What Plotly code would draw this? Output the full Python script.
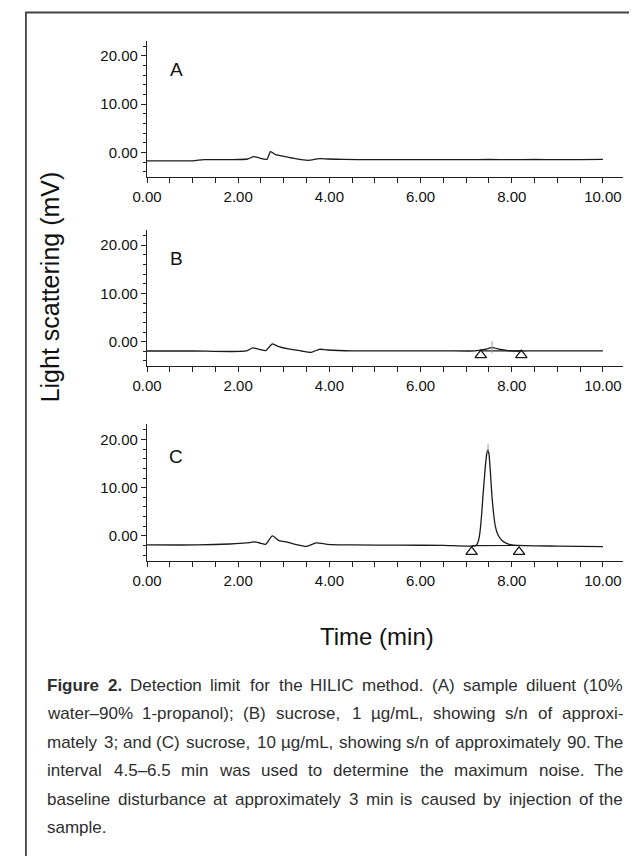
import math
import plotly.graph_objects as go

# ---------------- data ----------------
time_a = [0.0, 0.5, 1.0, 1.25, 1.82, 2.21, 2.34, 2.46, 2.63, 2.71, 2.82, 3.03, 3.25, 3.53, 3.78, 3.96,
          4.3, 5.0, 5.5, 6.0, 6.5, 7.0, 7.5, 8.0, 8.5, 9.0, 9.5, 10.0]
signal_a = [-1.75, -1.75, -1.72, -1.48, -1.48, -1.35, -0.86, -1.14, -1.42, 0.17, -0.45, -0.86, -1.28, -1.62,
            -1.28, -1.35, -1.45, -1.5, -1.48, -1.5, -1.48, -1.5, -1.46, -1.5, -1.46, -1.48, -1.47, -1.45]

time_b = [0.0, 1.0, 2.18, 2.32, 2.46, 2.60, 2.75, 2.89, 3.10, 3.39, 3.60, 3.78, 3.96, 4.5, 5.5, 6.5,
          7.2, 7.4, 7.57, 7.75, 7.95, 8.5, 9.0, 9.5, 10.0]
signal_b = [-1.93, -1.93, -1.93, -1.3, -1.58, -1.86, -0.48, -1.03, -1.51, -1.93, -2.2, -1.58, -1.72, -1.9,
            -1.92, -1.9, -1.9, -1.6, -1.25, -1.6, -1.9, -1.92, -1.9, -1.92, -1.9]

time_c = [0.0, 1.11, 1.82, 2.18, 2.35, 2.50, 2.60, 2.75, 2.89, 3.03, 3.25, 3.50, 3.71, 3.96, 4.5, 5.5,
          6.5, 7.21, 7.26, 7.30, 7.34, 7.37, 7.40, 7.43, 7.46, 7.48, 7.50, 7.53, 7.56, 7.60, 7.64, 7.70,
          7.78, 7.90, 8.04, 9.0, 10.0]
signal_c = [-1.86, -1.86, -1.66, -1.45, -1.24, -1.52, -1.72, 0.0, -0.97, -1.17, -1.72, -2.14, -1.45, -1.72,
            -1.85, -1.9, -1.95, -2.0, -1.3, 0.6, 4.5, 8.5, 12.0, 15.3, 17.4, 17.8, 17.0, 13.5, 9.0, 4.8, 2.0, 0.2,
            -0.9, -1.6, -1.9, -2.1, -2.2]

# integration markers (peak start / end) and apex ticks
marks_b_time = [7.32, 8.21]
marks_b_val = [-2.8, -2.8]
base_b_time = [7.32, 8.21]
base_b_val = [-1.9, -1.9]
apex_b_time = [7.57, 7.57]
apex_b_val = [0.1, -2.4]

marks_c_time = [7.12, 8.16]
marks_c_val = [-3.3, -3.3]
base_c_time = [7.12, 8.16]
base_c_val = [-2.0, -1.98]
apex_c_time = [7.48, 7.48]
apex_c_val = [19.0, 17.4]

panel_labels = ["A", "B", "C"]
label_pos_t = [0.64, 0.64, 0.64]
label_pos_v = [17.1, 17.3, 16.4]

x_tickvals = [0, 2, 4, 6, 8, 10]
y_tickvals = [0, 10, 20]

caption_lines = [
    "Figure 2. Detection limit for the HILIC method. (A) sample diluent (10%",
    "water–90% 1-propanol); (B) sucrose, 1 µg/mL, showing s/n of approxi-",
    "mately 3; and (C) sucrose, 10 µg/mL, showing s/n of approximately 90. The",
    "interval 4.5–6.5 min was used to determine the maximum noise. The",
    "baseline disturbance at approximately 3 min is caused by injection of the",
    "sample.",
]
caption_bold_words = 2  # "Figure 2." is bold

# ---------------- layout helpers ----------------
W, H = 637, 856
OFF = 8  # page body margin


def py(px):
    return 1 - (px - OFF) / H


def pxx(px):
    return (px - OFF) / W


XR = [0, 10.43]
YR = [-5.1, 23.1]
x_dom = [pxx(135), pxx(622)]
y_doms = [[py(177.1), py(40.9)], [py(366.3), py(230.1)], [py(560.6), py(424.4)]]

LINE = "#1a1a1a"
AXC = "#222222"
SANS = "Liberation Sans, Arial, Helvetica, sans-serif"
tickfont = dict(family=SANS, size=15, color="#111")

fig = go.Figure()

series = [(time_a, signal_a), (time_b, signal_b), (time_c, signal_c)]
for i, (t, s) in enumerate(series):
    xa = "x" if i == 0 else f"x{i+1}"
    ya = "y" if i == 0 else f"y{i+1}"
    fig.add_trace(go.Scatter(x=t, y=s, mode="lines", line=dict(color=LINE, width=1.3, shape="spline", smoothing=0.6),
                             xaxis=xa, yaxis=ya, showlegend=False, hoverinfo="skip"))

for i, (bt, bv, mt, mv, at, av) in enumerate([
        (base_b_time, base_b_val, marks_b_time, marks_b_val, apex_b_time, apex_b_val),
        (base_c_time, base_c_val, marks_c_time, marks_c_val, apex_c_time, apex_c_val)]):
    xa, ya = f"x{i+2}", f"y{i+2}"
    fig.add_trace(go.Scatter(x=bt, y=bv, mode="lines", line=dict(color=LINE, width=1.1),
                             xaxis=xa, yaxis=ya, showlegend=False, hoverinfo="skip"))
    fig.add_trace(go.Scatter(x=at, y=av, mode="lines", line=dict(color="#999", width=1),
                             xaxis=xa, yaxis=ya, showlegend=False, hoverinfo="skip"))
    fig.add_trace(go.Scatter(x=mt, y=mv, mode="markers",
                             marker=dict(symbol="triangle-up-open", size=10, color=LINE,
                                         line=dict(width=1.3, color=LINE)),
                             xaxis=xa, yaxis=ya, showlegend=False, hoverinfo="skip"))

layout = dict(
    width=W, height=H,
    margin=dict(l=0, r=0, t=0, b=0),
    paper_bgcolor="white", plot_bgcolor="white",
    showlegend=False,
)
for i in range(3):
    xk = "xaxis" if i == 0 else f"xaxis{i+1}"
    yk = "yaxis" if i == 0 else f"yaxis{i+1}"
    ya = "y" if i == 0 else f"y{i+1}"
    xa = "x" if i == 0 else f"x{i+1}"
    layout[xk] = dict(
        domain=x_dom, range=XR, anchor=ya, showgrid=False, zeroline=False,
        showline=True, linecolor=AXC, linewidth=1.3,
        tickvals=x_tickvals, tickformat=".2f", ticks="outside", ticklen=5, tickwidth=1.2,
        tickcolor=AXC, tickfont=tickfont, ticklabelstandoff=1,
        minor=dict(dtick=0.5, tick0=0, ticks="outside", ticklen=5, tickwidth=1.1, tickcolor=AXC),
    )
    layout[yk] = dict(
        domain=y_doms[i], range=YR, anchor=xa, showgrid=False, zeroline=False,
        showline=True, linecolor=AXC, linewidth=1.3,
        tickvals=y_tickvals, tickformat=".2f", ticks="outside", ticklen=5, tickwidth=1.2,
        tickcolor=AXC, tickfont=tickfont, ticklabelstandoff=0,
        minor=dict(dtick=2, tick0=0, ticks="outside", ticklen=3, tickwidth=1, tickcolor=AXC),
    )
fig.update_layout(**layout)

annotations = []
for i, lab in enumerate(panel_labels):
    xa = "x" if i == 0 else f"x{i+1}"
    ya = "y" if i == 0 else f"y{i+1}"
    annotations.append(dict(x=label_pos_t[i], y=label_pos_v[i], xref=xa, yref=ya, text=lab,
                            showarrow=False, xanchor="center", yanchor="middle",
                            font=dict(family=SANS, size=19, color="#111")))

annotations.append(dict(x=pxx(36), y=py(287), xref="paper", yref="paper", text="Light scattering (mV)",
                        textangle=-90, showarrow=False, xanchor="center", yanchor="middle",
                        font=dict(family=SANS, size=25, color="#111")))
annotations.append(dict(x=pxx(371), y=py(636), xref="paper", yref="paper", text="Time (min)",
                        showarrow=False, xanchor="center", yanchor="middle",
                        font=dict(family=SANS, size=24, color="#111")))

# ---- justified caption (word placement using Arial-metric widths) ----
REG = {' ': 278, '!': 278, '%': 889, '(': 333, ')': 333, ',': 278, '-': 333, '.': 278, '/': 278,
       ':': 278, ';': 278, '–': 556, 'µ': 576}
for ch in '0123456789':
    REG[ch] = 556
REG.update(dict(zip('ABCDEFGHIJKLMNOPQRSTUVWXYZ',
                    [667, 667, 722, 722, 667, 611, 778, 722, 278, 500, 667, 556, 833, 722, 778, 667, 778,
                     722, 667, 611, 722, 667, 944, 667, 667, 611])))
REG.update(dict(zip('abcdefghijklmnopqrstuvwxyz',
                    [556, 556, 500, 556, 556, 278, 556, 556, 222, 222, 500, 222, 833, 556, 556, 556, 556,
                     333, 500, 278, 556, 500, 722, 500, 500, 500])))
BOLD = dict(REG)
BOLD.update({'F': 611, 'i': 278, 'g': 611, 'u': 611, 'r': 389, 'e': 556, '2': 556, '.': 278})

CAP_SIZE = 17
CAP_LEFT, CAP_RIGHT = 32, 624
CAP_TOP, CAP_STEP = 685, 28.5
cap_font = dict(family=SANS, size=CAP_SIZE, color="#2e2e2e")


def word_w(w, table):
    # glyph advances are rounded to whole pixels when rendered
    return sum(math.floor(table.get(c, 556) * CAP_SIZE / 1000.0 + 0.5) for c in w) * 1.04 + 1.5


for k, line in enumerate(caption_lines):
    words = line.split(" ")
    tables = [BOLD if (k == 0 and j < caption_bold_words) else REG for j in range(len(words))]
    widths = [word_w(w, tb) for w, tb in zip(words, tables)]
    last = (k == len(caption_lines) - 1)
    if last or len(words) == 1:
        gap = 278 * CAP_SIZE / 1000.0
    else:
        gap = (CAP_RIGHT - CAP_LEFT - sum(widths)) / (len(words) - 1)
    xcur = CAP_LEFT
    for j, w in enumerate(words):
        txt = f"<b>{w}</b>" if tables[j] is BOLD else w
        if j == len(words) - 1 and not last and len(words) > 1:
            annotations.append(dict(x=pxx(CAP_RIGHT), y=py(CAP_TOP + CAP_STEP * k), xref="paper", yref="paper",
                                    text=txt, showarrow=False, xanchor="right", yanchor="middle", font=cap_font,
                                    borderpad=0))
        else:
            annotations.append(dict(x=pxx(xcur), y=py(CAP_TOP + CAP_STEP * k), xref="paper", yref="paper",
                                    text=txt, showarrow=False, xanchor="left", yanchor="middle", font=cap_font,
                                    borderpad=0))
        xcur += widths[j] + gap
fig.update_layout(annotations=annotations)

fig.add_shape(type="rect", xref="paper", yref="paper", x0=pxx(11), x1=pxx(635.5), y0=py(880), y1=py(12.5),
              line=dict(color="#444", width=1.8), fillcolor="rgba(0,0,0,0)", layer="above")

fig.write_html("out.html")
